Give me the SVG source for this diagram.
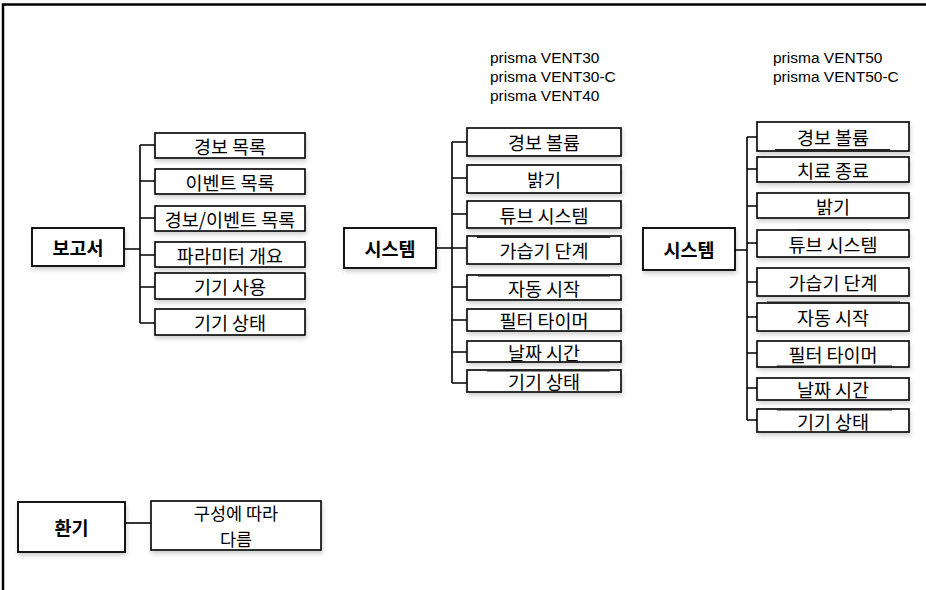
<svg xmlns="http://www.w3.org/2000/svg" width="926" height="590" viewBox="0 0 926 590">
  <defs>
    <filter id="sh" x="-10%" y="-20%" width="130%" height="160%">
      <feDropShadow dx="1" dy="3" stdDeviation="2" flood-color="#000" flood-opacity="0.18"/>
    </filter>
  </defs>
  <style>
    .box { fill: #fff; stroke: #000; stroke-width: 1.6; filter: url(#sh); }
    .pbox { fill: #fff; stroke: #000; stroke-width: 1.8; filter: url(#sh); }
    .t { font-family: "Noto Sans CJK KR", "Noto Sans", sans-serif; font-size: 18.5px; fill: #000; text-anchor: middle; dominant-baseline: central; }
    .t2 { font-size: 17.5px; }
    .pt { font-family: "Noto Sans CJK KR", "Noto Sans", sans-serif; font-size: 18.5px; font-weight: bold; fill: #000; text-anchor: middle; dominant-baseline: central; }
    .m { font-family: "Liberation Sans", Arial, sans-serif; font-size: 15.5px; fill: #000; }
    .c { fill: none; stroke: #000; stroke-width: 1.6; }
    .art { stroke: #222; stroke-width: 2.2; }
  </style>
  <rect width="926" height="590" fill="#fff"/>
  <path d="M3,590 V4.5 H926" fill="none" stroke="#000" stroke-width="2.5"/>

  <g id="models">
    <text class="m" x="490" y="63">prisma VENT30</text>
    <text class="m" x="490" y="82">prisma VENT30-C</text>
    <text class="m" x="490" y="101">prisma VENT40</text>
    <text class="m" x="773" y="63">prisma VENT50</text>
    <text class="m" x="773" y="82">prisma VENT50-C</text>
  </g>

  <g id="connectors">
    <path class="c" d="M124,249 H140 M140,145 V323 M140,145 H155 M140,181 H155 M140,218 H155 M140,255 H155 M140,287 H155 M140,323 H155"/>
    <path class="c" d="M436,248 H452 M452,142 V383 M452,142 H467 M452,178 H467 M452,214 H467 M452,248 H467 M452,287 H467 M452,320 H467 M452,352 H467 M452,383 H467"/>
    <path class="c" d="M735,250 H747 M747,137 V420 M747,137 H757 M747,169 H757 M747,206 H757 M747,243 H757 M747,282 H757 M747,317 H757 M747,353 H757 M747,388 H757 M747,420 H757"/>
    <path class="c" d="M125,523 H151"/>
  </g>

  <g id="n-report"><rect class="pbox" x="32" y="228" width="92" height="38"/><text class="pt" x="78" y="247">보고서</text></g>
  <g id="n-l1"><rect class="box" x="155" y="133" width="150" height="25"/><text class="t" x="230" y="145.5">경보 목록</text></g>
  <g id="n-l2"><rect class="box" x="155" y="169" width="150" height="25"/><text class="t" x="230" y="181.5">이벤트 목록</text></g>
  <g id="n-l3"><rect class="box" x="155" y="206" width="150" height="25"/><text class="t" x="230" y="218.5">경보/이벤트 목록</text></g>
  <g id="n-l4"><rect class="box" x="155" y="242" width="150" height="25"/><text class="t" x="230" y="254.5">파라미터 개요</text></g>
  <g id="n-l5"><rect class="box" x="155" y="273" width="150" height="26"/><text class="t" x="230" y="286">기기 사용</text></g>
  <g id="n-l6"><rect class="box" x="155" y="309" width="150" height="26"/><text class="t" x="230" y="322">기기 상태</text></g>

  <g id="n-sys1"><rect class="pbox" x="344" y="228" width="92" height="40"/><text class="pt" x="390" y="248">시스템</text></g>
  <g id="n-m1"><rect class="box" x="467" y="128" width="154" height="28"/><text class="t" x="544" y="142">경보 볼륨</text></g>
  <g id="n-m2"><rect class="box" x="467" y="165" width="154" height="28"/><text class="t" x="544" y="179">밝기</text></g>
  <g id="n-m3"><rect class="box" x="467" y="201" width="154" height="27"/><text class="t" x="544" y="214.5">튜브 시스템</text></g>
  <g id="n-m4"><rect class="box" x="467" y="236" width="154" height="28"/><text class="t" x="544" y="250">가습기 단계</text></g>
  <g id="n-m5"><rect class="box" x="467" y="275" width="154" height="25"/><text class="t" x="544" y="287.5">자동 시작</text></g>
  <g id="n-m6"><rect class="box" x="467" y="309" width="154" height="22"/><text class="t" x="544" y="320">필터 타이머</text></g>
  <g id="n-m7"><rect class="box" x="467" y="341" width="154" height="21"/><text class="t" x="544" y="351.5">날짜 시간</text></g>
  <g id="n-m8"><rect class="box" x="467" y="370" width="154" height="22"/><text class="t" x="544" y="381">기기 상태</text></g>

  <g id="n-sys2"><rect class="pbox" x="643" y="228" width="92" height="42"/><text class="pt" x="689" y="249">시스템</text></g>
  <g id="n-r1"><rect class="box" x="757" y="122" width="152" height="29"/><text class="t" x="833" y="136.5">경보 볼륨</text></g>
  <g id="n-r2"><rect class="box" x="757" y="157" width="152" height="25"/><text class="t" x="833" y="169.5">치료 종료</text></g>
  <g id="n-r3"><rect class="box" x="757" y="193" width="152" height="25"/><text class="t" x="833" y="205.5">밝기</text></g>
  <g id="n-r4"><rect class="box" x="757" y="230" width="152" height="27"/><text class="t" x="833" y="243.5">튜브 시스템</text></g>
  <g id="n-r5"><rect class="box" x="757" y="268" width="152" height="28"/><text class="t" x="833" y="282">가습기 단계</text></g>
  <g id="n-r6"><rect class="box" x="757" y="303" width="152" height="28"/><text class="t" x="833" y="317">자동 시작</text></g>
  <g id="n-r7"><rect class="box" x="757" y="341" width="152" height="26"/><text class="t" x="833" y="354">필터 타이머</text></g>
  <g id="n-r8"><rect class="box" x="757" y="378" width="152" height="22"/><text class="t" x="833" y="389">날짜 시간</text></g>
  <g id="n-r9"><rect class="box" x="757" y="409" width="152" height="23"/><text class="t" x="833" y="420.5">기기 상태</text></g>

  <g id="n-vent"><rect class="pbox" x="18" y="502" width="107" height="50"/><text class="pt" x="71.5" y="527">환기</text></g>
  <g id="n-vent-c"><rect class="box" x="151" y="501" width="170" height="49"/><text class="t t2" x="236" y="512.5">구성에 따라</text><text class="t t2" x="236" y="538.5">다름</text></g>

  <g id="marks">
    <path class="art" d="M477,237 H610 M478,275.5 H610 M487,370.5 H610 M775,150 H890 M797,230 H870 M767,302.5 H900 M777,366.5 H892 M777,409.5 H892"/>
  </g>
</svg>
